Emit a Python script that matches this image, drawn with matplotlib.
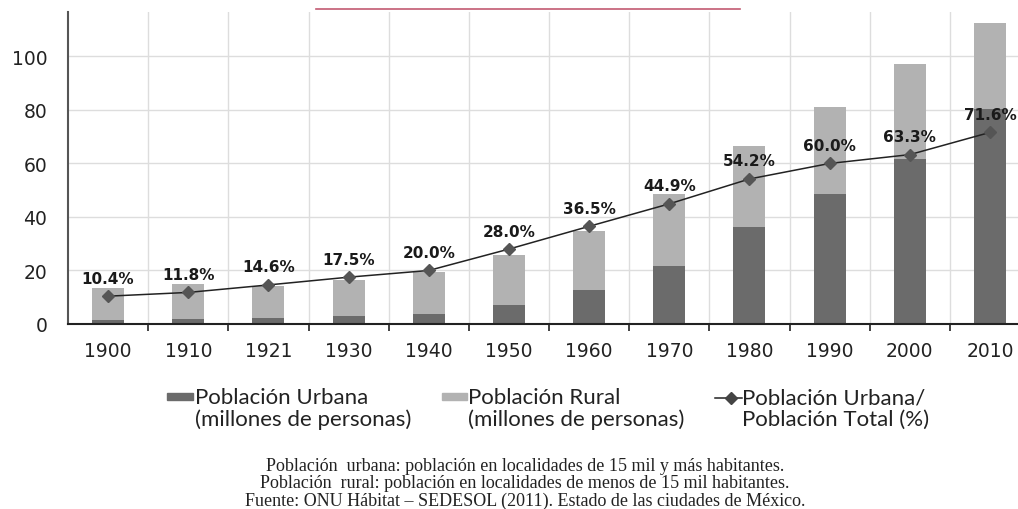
import numpy as np
import matplotlib
matplotlib.use("Agg")
import matplotlib.pyplot as plt
from matplotlib.lines import Line2D
from matplotlib.patches import Rectangle

plt.rcParams["font.family"] = "DejaVu Sans"

years = ["1900", "1910", "1921", "1930", "1940", "1950", "1960", "1970", "1980", "1990", "2000", "2010"]
urbana = [1.4, 1.8, 2.1, 2.9, 3.9, 7.1, 12.6, 21.8, 36.1, 48.7, 61.8, 80.5]
total = [13.4, 14.8, 14.2, 16.3, 19.4, 25.6, 34.8, 48.4, 66.7, 81.1, 97.2, 112.4]
pct_urbana = [10.4, 11.8, 14.6, 17.5, 20.0, 28.0, 36.5, 44.9, 54.2, 60.0, 63.3, 71.6]

rural = np.array(total) - np.array(urbana)
x = np.arange(len(years))

dark = "#6b6b6b"
light = "#b2b2b2"
txt = "#222222"

fig = plt.figure(figsize=(10.18, 5.10), dpi=100)
ax = fig.add_axes([68 / 1018, 1 - 325 / 510, 950 / 1018, (325 - 13) / 510])

ax.bar(x, urbana, width=0.4, color=dark, zorder=2)
ax.bar(x, rural, width=0.4, bottom=urbana, color=light, zorder=2)
ax.plot(x, pct_urbana, color="#222222", lw=1.1, marker="D", ms=6,
        mfc="#555555", mec="#555555", zorder=4)
for xi, p in zip(x, pct_urbana):
    ax.annotate(f"{p:.1f}%", (xi, p), xytext=(0, 13), textcoords="offset points",
                ha="center", va="center", fontsize=11, fontweight="bold", color="#1a1a1a")

ax.set_xlim(-0.5, 11.35)
ax.set_ylim(0, 116.6)
ax.set_yticks([0, 20, 40, 60, 80, 100])
ax.set_xticks(x)
ax.set_xticklabels(years)
ax.set_xticks(np.arange(0.5, 11, 1), minor=True)
ax.tick_params(axis="x", which="major", length=0, pad=12, labelsize=13.5, colors=txt)
ax.tick_params(axis="x", which="minor", length=5, width=1.2, color=txt)
ax.tick_params(axis="y", length=0, pad=15, labelsize=13.5, colors=txt)
ax.grid(axis="y", color="#dddddd", lw=1, zorder=0)
ax.grid(axis="x", which="minor", color="#dddddd", lw=1, zorder=0)
for s in ["top", "right"]:
    ax.spines[s].set_visible(False)
ax.spines["left"].set_color("#555555")
ax.spines["left"].set_linewidth(1.5)
ax.spines["bottom"].set_color(txt)
ax.spines["bottom"].set_linewidth(1.5)

# red line at the top
fig.add_artist(Line2D([316 / 1018, 740 / 1018], [1 - 10 / 510, 1 - 10 / 510],
                      color="#c25a72", lw=1.2))

# legend
lf = "Lato"
ly = 1 - 409 / 510
fig.add_artist(Rectangle((167 / 1018, 1 - 401 / 510), 26 / 1018, 7 / 510, color=dark))
fig.text(195 / 1018, ly, "Población Urbana\n(millones de personas)",
         fontsize=16, family=lf, va="center", linespacing=1.05, color=txt)
fig.add_artist(Rectangle((442 / 1018, 1 - 401 / 510), 25 / 1018, 7 / 510, color=light))
fig.text(468 / 1018, ly, "Población Rural\n(millones de personas)",
         fontsize=16, family=lf, va="center", linespacing=1.05, color=txt)
fig.add_artist(Line2D([715 / 1018, 742 / 1018], [1 - 399 / 510, 1 - 399 / 510],
                      color=txt, lw=1.1))
fig.add_artist(Line2D([731 / 1018], [1 - 399 / 510], marker="D", ms=6,
                      mfc="#444444", mec="#444444", lw=0))
fig.text(742 / 1018, ly, "Población Urbana/\nPoblación Total (%)",
         fontsize=16, family=lf, va="center", linespacing=1.05, color=txt)

foot = ("Población  urbana: población en localidades de 15 mil y más habitantes.\n"
        "Población  rural: población en localidades de menos de 15 mil habitantes.\n"
        "Fuente: ONU Hábitat – SEDESOL (2011). Estado de las ciudades de México.")
fig.text(525 / 1018, 1 - 484 / 510, foot, ha="center", va="center", fontsize=13,
         family="Liberation Serif", linespacing=1.0, color=txt)

fig.savefig("out.png", dpi=100)
